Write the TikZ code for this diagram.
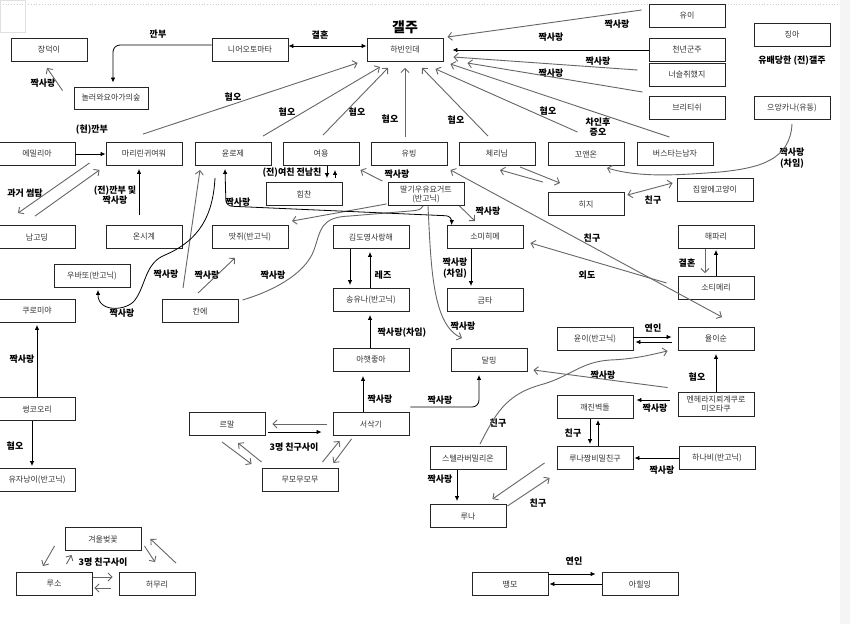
\documentclass[tikz,border=0pt]{standalone}
\usepackage{fontspec}
\newfontfamily\kr{Noto Sans CJK KR}
\usetikzlibrary{arrows.meta,calc}
\tikzset{
 box/.style={draw=black!85, line width=0.9pt, minimum width=76pt, minimum height=23pt, inner sep=1pt, align=center, font=\kr\fontsize{8}{9}\selectfont, text=black!80},
 lbl/.style={font=\kr\bfseries\fontsize{9}{10.5}\selectfont, inner sep=0pt, align=center},
 fa/.style={draw=black, line width=0.8pt, -{Latex[length=5pt,width=4.5pt]}},
 fab/.style={draw=black, line width=0.8pt, {Latex[length=5pt,width=4.5pt]}-{Latex[length=5pt,width=4.5pt]}},
 oa/.style={draw=black!60, line width=0.9pt, -{Straight Barb[length=4pt,width=8pt]}},
 oab/.style={draw=black!60, line width=0.9pt, {Straight Barb[length=4pt,width=8pt]}-{Straight Barb[length=4pt,width=8pt]}},
}
\begin{document}
\begin{tikzpicture}[x=1pt,y=-1pt]
\useasboundingbox (0,0) rectangle (850,624);
\fill[white] (0,0) rectangle (850,624);
\fill[black!4] (840,0) rectangle (850,624);
\draw[black!20, dotted, line width=0.8pt] (0,4) -- (838,4);
\draw[black!12, line width=0.6pt] (0,0) rectangle (25,32);

% ---------- nodes ----------
\node[box] (jangdeok) at (49,50) {장덕이};
\node[box] (nier) at (250,50) {니어오토마타};
\node[box] (habin) at (405,50) {하빈인데};
\node[box, minimum width=74pt, minimum height=22pt] (nolle) at (111,98) {놀러와요아가의숲};
\node[box] (yui) at (687,16) {유이};
\node[box] (chunnyun) at (687,50) {천년군주};
\node[box] (neoseul) at (687,75) {너슬취했지};
\node[box] (british) at (687,108) {브리티쉬};
\node[box] (jinga) at (792,35) {징아};
\node[box] (eung) at (792,108) {으앙카나(유동)};
\node[box] (emil) at (37,154) {에밀리아};
\node[box] (marin) at (144,154) {마리린귀여워};
\node[box] (yunroje) at (233,154) {윤로제};
\node[box] (yeoyong) at (321,154) {여용};
\node[box] (yubing) at (409,154) {유빙};
\node[box] (cherry) at (497,154) {체리님};
\node[box] (kko) at (586,154) {꼬앤온};
\node[box] (bus) at (675,154) {버스타는남자};
\node[box] (himchan) at (304,194) {힘찬};
\node[box] (ddal) at (426,194) {딸기우유요거트\\(반고닉)};
\node[box] (hiji) at (586,204) {히지};
\node[box] (jipap) at (715,190) {집앞에고양이};
\node[box] (namgo) at (37,237) {남고딩};
\node[box] (onsi) at (144,237) {온시계};
\node[box] (ddat) at (250,237) {땃쥐(반고닉)};
\node[box] (kimdo) at (371,237) {김도영사랑해};
\node[box] (somi) at (485,237) {소미히메};
\node[box] (haepari) at (716,237) {해파리};
\node[box] (ubatto) at (92,276) {우바또(반고닉)};
\node[box] (sotimeri) at (716,288) {소티메리};
\node[box] (kuromi) at (37,311) {쿠로미야};
\node[box] (kane) at (200,311) {칸에};
\node[box] (songyu) at (371,300) {송유나(반고닉)};
\node[box] (geumta) at (485,300) {금타};
\node[box] (ahat) at (371,360) {아햇좋아};
\node[box] (dalming) at (489,360) {달밍};
\node[box] (yuni) at (595,339) {윤이(반고닉)};
\node[box] (yulisun) at (716,339) {율이순};
\node[box, minimum height=24pt] (menhera) at (716,404) {멘헤라지뢰계쿠로\\미오타쿠};
\node[box] (kkaejin) at (595,407) {깨진벽돌};
\node[box] (ssung) at (37,409) {썽코오리};
\node[box] (remal) at (227,424) {르말};
\node[box] (seosak) at (371,424) {서삭기};
\node[box] (stella) at (468,458) {스텔라버밀리온};
\node[box] (lunajjang) at (595,458) {루나짱비밀친구};
\node[box] (hanabi) at (717,458) {하나비(반고닉)};
\node[box] (yuja) at (37,480) {유자낭이(반고닉)};
\node[box] (mumo) at (300,480) {무모무모무};
\node[box] (luna) at (468,516) {루나};
\node[box] (gyeoul) at (103,539) {겨울벚꽃};
\node[box] (luso) at (54,584) {루소};
\node[box] (heomuri) at (157,584) {허무리};
\node[box] (ddaengmo) at (510,584) {땡모};
\node[box] (ahil) at (640,584) {아힐잉};

% ---------- labels ----------
\node[lbl, font=\kr\bfseries\fontsize{14}{16}\selectfont] (galju) at (405,27) {갤주};
\node[lbl] (l1) at (320,35) {결혼};
\node[lbl] (l2) at (158,34) {깐부};
\node[lbl] (l3) at (43,83) {짝사랑};
\node[lbl] (l4) at (617,24) {짝사랑};
\node[lbl] (l5) at (551,37) {짝사랑};
\node[lbl] (l6) at (598,61) {짝사랑};
\node[lbl] (l7) at (551,73) {짝사랑};
\node[lbl] (l8) at (792,61) {유배당한 (전)갤주};
\node[lbl] (h1) at (233,97) {혐오};
\node[lbl] (h2) at (287,112) {혐오};
\node[lbl] (h3) at (357,112) {혐오};
\node[lbl] (h4) at (390,119) {혐오};
\node[lbl] (h5) at (456,120) {혐오};
\node[lbl] (h6) at (548,111) {혐오};
\node[lbl] (l9) at (598,127) {차인후\\증오};
\node[lbl] (l10) at (92,130) {(현)깐부};
\node[lbl] (l11) at (25,193) {과거 썸탐};
\node[lbl] (l12) at (115,195) {(전)깐부 및\\짝사랑};
\node[lbl] (l13) at (238,202) {짝사랑};
\node[lbl] (l14) at (292,173) {(전)여친 전남친};
\node[lbl] (l15) at (397,174) {짝사랑};
\node[lbl] (l16) at (488,211) {짝사랑};
\node[lbl] (l17) at (792,158) {짝사랑\\(차임)};
\node[lbl] (l18) at (653,200) {친구};
\node[lbl] (l19) at (592,238) {친구};
\node[lbl] (l20) at (587,275) {외도};
\node[lbl] (l21) at (687,263) {결혼};
\node[lbl] (l22) at (383,275) {레즈};
\node[lbl] (l23) at (455,268) {짝사랑\\(차임)};
\node[lbl] (l24) at (166,274) {짝사랑};
\node[lbl] (l25) at (207,275) {짝사랑};
\node[lbl] (l26) at (273,275) {짝사랑};
\node[lbl] (l27) at (122,313) {짝사랑};
\node[lbl] (l28) at (402,333) {짝사랑(차임)};
\node[lbl] (l29) at (463,326) {짝사랑};
\node[lbl] (l30) at (22,359) {짝사랑};
\node[lbl] (l31) at (653,328) {연인};
\node[lbl] (l32) at (603,375) {짝사랑};
\node[lbl] (l33) at (697,377) {혐오};
\node[lbl] (l34) at (380,399) {짝사랑};
\node[lbl] (l35) at (440,400) {짝사랑};
\node[lbl] (l36) at (655,408) {짝사랑};
\node[lbl] (l37) at (498,423) {친구};
\node[lbl] (l38) at (573,433) {친구};
\node[lbl] (l39) at (15,446) {혐오};
\node[lbl] (l40) at (294,447) {3명 친구사이};
\node[lbl] (l41) at (662,470) {짝사랑};
\node[lbl] (l42) at (440,479) {짝사랑};
\node[lbl] (l43) at (538,503) {친구};
\node[lbl] (l44) at (103,562) {3명 친구사이};
\node[lbl] (l45) at (574,561) {연인};

% ---------- connectors ----------
% top
\draw[fab] ($(nier.east)+(0,-4)$) -- ($(habin.west)+(0,-4)$);
\draw[fa, rounded corners=7pt] ($(nier.west)+(0,-5)$) -| ($(nolle.north)+(2,-4)$);
\draw[oa] ($(nolle.north west)+(-11,4)$) -- ($(jangdeok.south)+(-2,6)$);
% into habin from right
\draw[oa] ($(yui.west)+(-7,-6)$) -- ($(habin.east)+(4,-13)$);
\draw[fa] (chunnyun.west) -- ($(habin.east)+(9,0)$);
\draw[oa] ($(neoseul.west)+(-11,-5)$) -- ($(habin.east)+(10,7)$);
\draw[oa] ($(british.west)+(-6,-16)$) -- ($(habin.east)+(24,13)$);
\draw[oa] ($(bus.north west)+(33,-5)$) -- ($(habin.east)+(7,14)$);
\draw[oa] ($(kko.north west)+(30,-10)$) -- ($(habin.south east)+(-8,7)$);
% into habin from below / left
\draw[oa] ($(cherry.north)+(-9,-6)$) -- ($(habin.south)+(17,6)$);
\draw[oa] ($(yubing.north)+(-4,-5)$) -- ($(habin.south)+(0,6)$);
\draw[oa] ($(yeoyong.north)+(2,-7)$) -- ($(habin.south)+(-17,6)$);
\draw[oa] ($(yunroje.north)+(30,-6)$) -- ($(habin.south)+(-25,5)$);
\draw[oa] ($(marin.north)+(-1,-8)$) -- ($(habin.south west)+(-9,1)$);
% left cluster
\draw[fa] (emil.east) -- (marin.west);
\draw[oa] ($(marin.south west)+(-16,-3)$) -- ($(namgo.north)+(-19,-12)$);
\draw[oa] ($(namgo.north)+(-2,-9)$) -- ($(marin.south west)+(-6,4)$);
\draw[fa] ($(onsi.north)+(-5,-10)$) -- ($(marin.south)+(-5,3)$);
\draw[oa] ($(kane.north)+(-17,-11)$) -- ($(yunroje.south)+(-33,4)$);
\draw[fa] ($(yunroje.south)+(-18,12)$) .. controls (213,215) and (200,240) .. (165,255)
  .. controls (145,263) and (146,285) .. (135,300)
  .. controls (127,311) and (98,313) .. ($(ubatto.south)+(6,2)$);
\draw[oa] ($(kane.north)+(-2,-6)$) -- ($(ddat.south)+(-15,9)$);
\draw[draw=black!60, line width=0.9pt] ($(kane.east)+(4,-11)$) .. controls (270,292) and (305,275) .. (314,250)
  .. controls (321,230) and (320,217) .. (350,216) -- (410,211) .. controls (420,210) .. ($(ddal.south)+(-3,0)$);
\draw[oa] ($(ddal.south west)+(-1,-2)$) -- ($(ddat.north)+(42,-4)$);
\draw[fab, rounded corners=6pt] ($(yunroje.south)+(-8,3)$) -- (226,206) -- (452,216) -- ($(somi.north west)+(5,0)$);
\draw[fa] ($(yeoyong.south)+(6,0)$) -- ($(himchan.north)+(23,-4)$);
\draw[fa] ($(himchan.north)+(31,-4)$) -- ($(yeoyong.south)+(14,4)$);
\draw[oa] ($(ddal.north west)+(-5,-1)$) -- ($(yeoyong.south east)+(1,4)$);
\draw[oa] ($(ddal.south east)+(-5,0)$) -- ($(somi.north)+(-10,-4)$);
\draw[oa] ($(ddal.south)+(2,0)$) .. controls (431,265) and (432,325) .. ($(dalming.north)+(-27,-10)$);
% right cluster
\draw[oab] ($(yubing.south east)+(3,4)$) -- ($(yulisun.north)+(6,-10)$);
\draw[oa] ($(sotimeri.west)+(-11,-5)$) -- ($(somi.east)+(7,6)$);
\draw[oa] ($(haepari.south)+(-11,0)$) -- ($(sotimeri.north)+(-11,-3)$);
\draw[fa] (sotimeri.north) -- ($(haepari.south)+(0,1)$);
\draw[oa] ($(hiji.north)+(-43,-10)$) -- ($(cherry.south)+(3,4)$);
\draw[oa] ($(cherry.south)+(23,1)$) -- ($(hiji.north)+(-26,-9)$);
\draw[oa] ($(eung.south)+(0,4)$) .. controls (790,160) and (760,168) .. (720,172)
  .. controls (680,175) and (640,178) .. ($(kko.south)+(21,2)$);
\draw[oab] ($(hiji.east)+(3,-9)$) -- ($(jipap.west)+(-4,-7)$);
% middle
\draw[fa] ($(kimdo.south)+(-21,0)$) -- ($(songyu.north)+(-21,-3)$);
\draw[fa] ($(songyu.north)+(-1,0)$) -- ($(kimdo.south)+(-1,3)$);
\draw[fa] ($(ahat.north)+(-1,0)$) -- ($(songyu.south)+(-1,3)$);
\draw[fa] ($(somi.south)+(-14,0)$) -- ($(geumta.north)+(-14,-2)$);
\draw[fa] ($(seosak.north)+(-8,0)$) -- ($(ahat.south)+(-8,4)$);
\draw[fa, rounded corners=7pt] ($(seosak.north east)+(1,-5)$) -| ($(dalming.south)+(-10,3)$);
\draw[oa] ($(seosak.west)+(-6,0)$) -- ($(remal.east)+(7,0)$);
\draw[fa] ($(remal.east)+(3,8)$) -- ($(seosak.west)+(-11,8)$);
\draw[oa] ($(remal.south)+(-5,6)$) -- ($(mumo.north west)+(-10,-4)$);
\draw[oa] ($(mumo.north west)+(0,-6)$) -- ($(remal.south)+(11,7)$);
\draw[oa] ($(mumo.north east)+(-16,-6)$) -- ($(seosak.south west)+(7,5)$);
\draw[oa] ($(seosak.south west)+(19,3)$) -- ($(mumo.north east)+(-5,-5)$);
% bottom left triangle
\draw[oa] ($(gyeoul.south west)+(-10,-5)$) -- ($(luso.north)+(-11,-6)$);
\draw[oa] ($(luso.north east)+(-26,-8)$) -- ($(gyeoul.south west)+(7,4)$);
\draw[oa] ($(gyeoul.south east)+(3,-5)$) -- ($(heomuri.north)+(-2,-10)$);
\draw[oa] ($(heomuri.north)+(19,-9)$) -- ($(gyeoul.south east)+(9,-12)$);
\draw[oa] ($(luso.east)+(1,-7)$) -- ($(heomuri.west)+(-6,-7)$);
\draw[oa] ($(heomuri.west)+(-8,4)$) -- ($(luso.east)+(2,4)$);
% far left
\draw[fa] (ssung.north) -- ($(kuromi.south)+(0,2)$);
\draw[fa] ($(ssung.south)+(-5,0)$) -- ($(yuja.north)+(-5,-2)$);
% lower right
\draw[fa] ($(stella.south)+(-11,0)$) -- ($(luna.north)+(-11,-3)$);
\draw[oa] ($(stella.north)+(12,-2)$) .. controls (495,415) and (505,395) .. (540,385)
  .. controls (570,377) and (580,362) .. (610,360)
  .. controls (635,359) and (650,355) .. ($(yulisun.south west)+(-10,0)$);
\draw[oa] ($(menhera.north west)+(-10,-4)$) -- ($(dalming.east)+(6,10)$);
\draw[fa] ($(menhera.west)+(-8,-4)$) -- ($(kkaejin.east)+(3,-7)$);
\draw[fa] (menhera.north) -- ($(yulisun.south)+(0,3)$);
\draw[fa] ($(yuni.east)+(0,-2)$) -- ($(yulisun.west)+(-6,-2)$);
\draw[fa] ($(yulisun.west)+(-6,3)$) -- ($(yuni.east)+(2,3)$);
\draw[fa] ($(kkaejin.south)+(-5,0)$) -- ($(lunajjang.north)+(-5,-2)$);
\draw[fa] ($(lunajjang.north)+(3,0)$) -- ($(kkaejin.south)+(3,1)$);
\draw[fa] (hanabi.west) -- ($(lunajjang.east)+(1,0)$);
\draw[oa] ($(lunajjang.south west)+(-12,-7)$) -- ($(luna.north east)+(-14,-5)$);
\draw[oa] ($(luna.north east)+(1,2)$) -- ($(lunajjang.south west)+(-7,8)$);
\draw[fa] ($(ddaengmo.east)+(0,-10)$) -- ($(ahil.west)+(-6,-10)$);
\draw[fa] (ahil.west) -- ($(ddaengmo.east)+(1,0)$);
\end{tikzpicture}
\end{document}
